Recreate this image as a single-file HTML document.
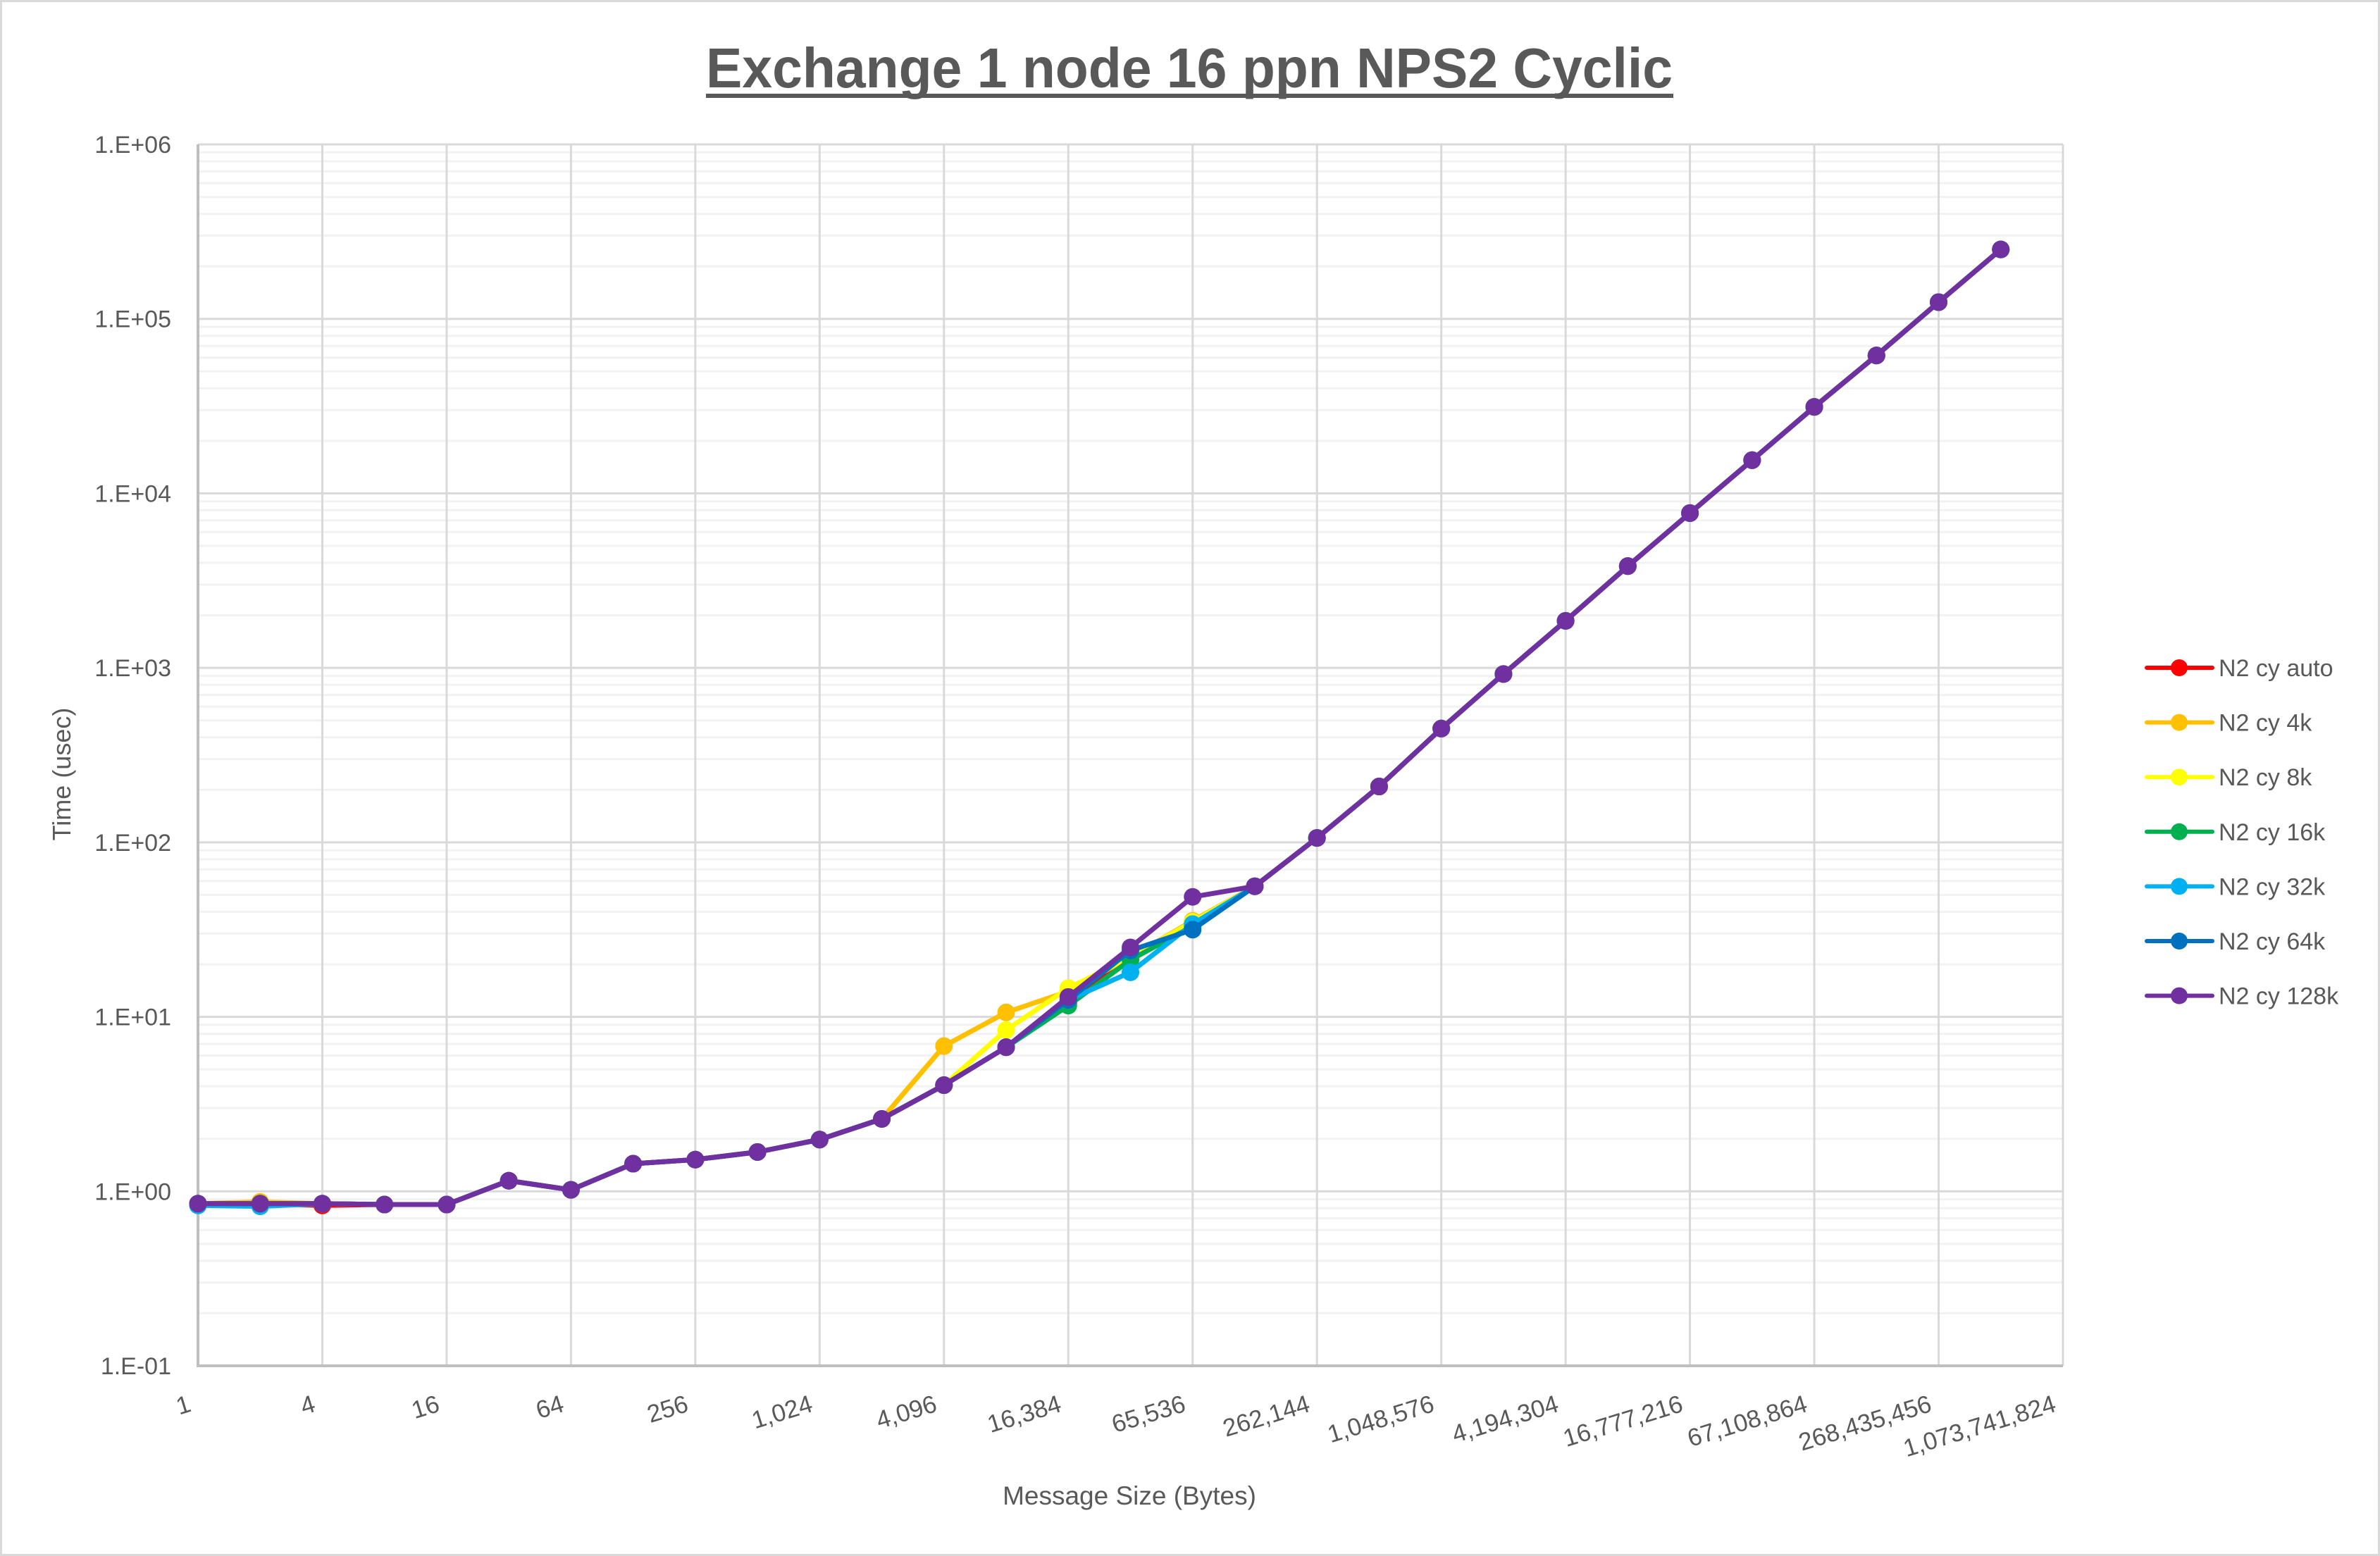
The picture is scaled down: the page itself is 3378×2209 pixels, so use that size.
<!DOCTYPE html>
<html><head><meta charset="utf-8"><style>
html,body{margin:0;padding:0;background:#fff;}
svg{display:block;font-family:"Liberation Sans",sans-serif;}
</style></head><body>
<svg id="c" width="3378" height="2209" viewBox="0 0 3378 2209" xmlns="http://www.w3.org/2000/svg">
<rect x="1.5" y="1.5" width="3375" height="2206" fill="#fff" stroke="#d9d9d9" stroke-width="3"/>
<text x="1688" y="124" text-anchor="middle" font-size="80" font-weight="bold" fill="#595959" textLength="1372" lengthAdjust="spacingAndGlyphs">Exchange 1 node 16 ppn NPS2 Cyclic</text>
<rect x="1002" y="133" width="1373" height="6" fill="#595959"/>
<g id="grid"></g>
<g id="series"></g>
<g id="labels" fill="#595959"></g>
<text transform="translate(100,1099) rotate(-90)" text-anchor="middle" font-size="36" fill="#595959">Time (usec)</text>
<text x="1603" y="2136" text-anchor="middle" font-size="37" fill="#595959">Message Size (Bytes)</text>
<g id="legend"></g>
</svg>
<script>
var NS="http://www.w3.org/2000/svg";
function el(p,t,a,txt){var e=document.createElementNS(NS,t);for(var k in a)e.setAttribute(k,a[k]);if(txt!==undefined)e.textContent=txt;document.getElementById(p).appendChild(e);return e;}
var L=281,R=2928,T=205,B=1939;
function X(i){return L+(R-L)*i/30;}
function Y(v){return B-(Math.log10(v)+1)*(B-T)/7;}
for(var d=-1;d<6;d++){for(var m=2;m<10;m++){var y=Y(m*Math.pow(10,d));el("grid","line",{x1:L,x2:R,y1:y,y2:y,stroke:"#f2f2f2","stroke-width":3});}}
for(var d=-1;d<=6;d++){var y=Y(Math.pow(10,d));el("grid","line",{x1:L,x2:R,y1:y,y2:y,stroke:"#d9d9d9","stroke-width":3});
 el("labels","text",{x:243,y:y+12,"text-anchor":"end","font-size":34},"1.E"+(d<0?"-0"+(-d):"+0"+d));}
for(var i=2;i<=30;i+=2){el("grid","line",{x1:X(i),x2:X(i),y1:T,y2:B,stroke:"#d9d9d9","stroke-width":3});}
el("grid","line",{x1:L,x2:L,y1:T,y2:B+2,stroke:"#bfbfbf","stroke-width":4});
el("grid","line",{x1:L-2,x2:R,y1:B,y2:B,stroke:"#bfbfbf","stroke-width":4});
var xl=["1","4","16","64","256","1,024","4,096","16,384","65,536","262,144","1,048,576","4,194,304","16,777,216","67,108,864","268,435,456","1,073,741,824"];
for(var k=0;k<16;k++){var x=X(2*k)-8,y=2003;el("labels","text",{x:x,y:y,"text-anchor":"end","font-size":35,transform:"rotate(-17 "+x+" "+y+")"},xl[k]);}
var base=[0.85,0.85,0.85,0.84,0.84,1.15,1.02,1.44,1.52,1.68,1.98,2.6,4.06,6.7,13,25,48.7,56,106,209,449,922,1860,3830,7710,15500,31300,61700,124700,250000];
function mod(o){var a=base.slice();for(var k in o)a[k]=o[k];return a;}
var S=[
 ["N2 cy auto","#ff0000",mod({2:0.83,14:12,15:22,16:34})],
 ["N2 cy 4k","#ffc000",mod({1:0.87,12:6.8,13:10.6,14:14,15:22,16:35.5})],
 ["N2 cy 8k","#ffff00",mod({13:8.4,14:14.6,15:22,16:35})],
 ["N2 cy 16k","#00b050",mod({14:11.6,15:21.2,16:33})],
 ["N2 cy 32k","#00b0f0",mod({0:0.83,1:0.82,14:12.5,15:18,16:34})],
 ["N2 cy 64k","#0070c0",mod({14:12.5,15:24,16:31.6})],
 ["N2 cy 128k","#7030a0",base]
];
S.forEach(function(s,j){
 var pts=s[2].map(function(v,i){return X(i).toFixed(1)+","+Y(v).toFixed(1);}).join(" ");
 el("series","polyline",{points:pts,fill:"none",stroke:s[1],"stroke-width":7,"stroke-linejoin":"round"});
 s[2].forEach(function(v,i){el("series","circle",{cx:X(i),cy:Y(v),r:12.5,fill:s[1]});});
 var ly=948+j*77.6;
 el("legend","line",{x1:3047,x2:3140,y1:ly,y2:ly,stroke:s[1],"stroke-width":6,"stroke-linecap":"round"});
 el("legend","circle",{cx:3093,cy:ly,r:12,fill:s[1]});
 el("legend","text",{x:3149,y:ly+12,"font-size":34,fill:"#595959"},s[0]);
});
</script>
</body></html>
